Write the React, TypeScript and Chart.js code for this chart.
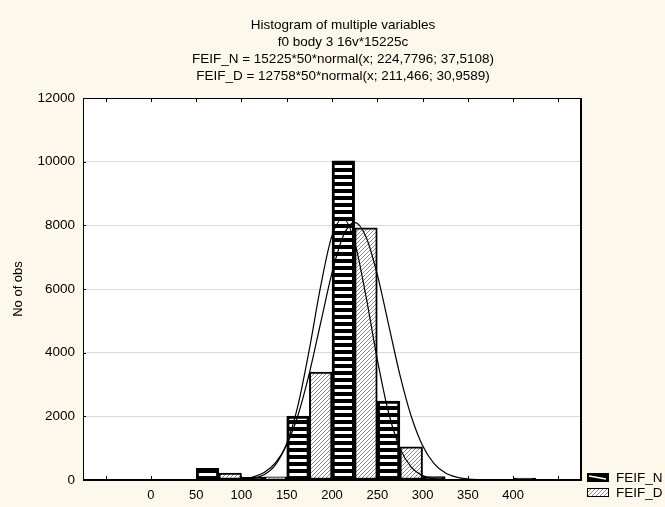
import React, { useEffect, useRef } from 'react';
import { Chart, registerables } from 'chart.js';

Chart.register(...registerables);

// ---- data ----
const titleLines = [
  'Histogram of multiple variables',
  'f0 body 3 16v*15225c',
  'FEIF_N = 15225*50*normal(x; 224,7796; 37,5108)',
  'FEIF_D = 12758*50*normal(x; 211,466; 30,9589)',
];
const binCenters = [-25, 25, 75, 125, 175, 225, 275, 325, 375, 425];
const feifN = [null, null, 370, 80, 2010, 10030, 2480, 110, null, 60];
const feifD = [null, null, 220, 100, 3390, 7920, 1040, null, null, null];

const curveX = [75, 87.5, 100, 112.5, 125, 137.5, 150, 162.5, 175, 187.5, 200, 212.5, 225, 237.5, 250, 262.5, 275, 287.5, 300, 312.5, 325, 337.5, 350, 362.5, 375];
const curveN = [1, 10, 32, 92, 236, 540, 1109, 2041, 3357, 4940, 6508, 7674, 8096, 7644, 6458, 4881, 3303, 2001, 1085, 525, 228, 89, 31, 10, 3];
const curveD = [0, 3, 13, 50, 166, 474, 1145, 2353, 4108, 6091, 7675, 8215, 7471, 5773, 3790, 2113, 1001, 403, 138, 40, 10, 2, 0, 0, 0];

const xTickValues = [-50, 0, 50, 100, 150, 200, 250, 300, 350, 400, 450];
const xTickLabels = ['', '0', '50', '100', '150', '200', '250', '300', '350', '400', ''];
const yTickValues = [0, 2000, 4000, 6000, 8000, 10000, 12000];
const seriesNames = ['FEIF_N', 'FEIF_D'];
const yAxisTitle = 'No of obs';

const FONT = '"Liberation Sans", Arial, sans-serif';
const BG = '#fdf8ec';

function makeStripePattern(ctx: CanvasRenderingContext2D) {
  const c = document.createElement('canvas');
  c.width = 8; c.height = 7;
  const g = c.getContext('2d')!;
  g.fillStyle = '#ffffff'; g.fillRect(0, 0, 8, 7);
  g.fillStyle = '#000000'; g.fillRect(0, 0, 8, 4);
  return ctx.createPattern(c, 'repeat')!;
}

function makeHatchPattern(ctx: CanvasRenderingContext2D) {
  const s = 4;
  const c = document.createElement('canvas');
  c.width = s; c.height = s;
  const g = c.getContext('2d')!;
  g.fillStyle = '#ffffff'; g.fillRect(0, 0, s, s);
  g.strokeStyle = '#8a8a8a'; g.lineWidth = 1;
  g.beginPath();
  g.moveTo(-1, s + 1); g.lineTo(s + 1, -1);
  g.moveTo(-1, 1); g.lineTo(1, -1);
  g.moveTo(s - 1, s + 1); g.lineTo(s + 1, s - 1);
  g.stroke();
  return ctx.createPattern(c, 'repeat')!;
}

export default function App() {
  const ref = useRef<HTMLCanvasElement>(null);

  useEffect(() => {
    const canvas = ref.current!;
    const ctx = canvas.getContext('2d')!;
    const patN = makeStripePattern(ctx);
    const patD = makeHatchPattern(ctx);

    const bgPlugin = {
      id: 'bg',
      beforeDraw(chart: any) {
        const c = chart.ctx;
        const a = chart.chartArea;
        c.save();
        c.fillStyle = BG;
        c.fillRect(0, 0, chart.width, chart.height);
        c.fillStyle = '#ffffff';
        c.fillRect(a.left, a.top, a.right - a.left, a.bottom - a.top);
        c.restore();
      },
    };

    const framePlugin = {
      id: 'frame',
      afterDraw(chart: any) {
        const c = chart.ctx;
        const a = chart.chartArea;
        const xs = chart.scales.x;
        const ys = chart.scales.y;
        c.save();
        // frame
        c.strokeStyle = '#000';
        c.lineWidth = 1;
        c.beginPath();
        c.moveTo(a.left + 0.5, a.bottom);
        c.lineTo(a.left + 0.5, a.top + 0.5);
        c.lineTo(a.right, a.top + 0.5);
        c.stroke();
        c.lineWidth = 2;
        c.beginPath();
        c.moveTo(a.right, a.top);
        c.lineTo(a.right, a.bottom);
        c.lineTo(a.left, a.bottom);
        c.stroke();
        // ticks
        c.lineWidth = 1;
        c.beginPath();
        xTickValues.forEach((v) => {
          const px = Math.round(xs.getPixelForValue(v)) + 0.5;
          c.moveTo(px, a.bottom); c.lineTo(px, a.bottom - 4);
          c.moveTo(px, a.top); c.lineTo(px, a.top + 4);
        });
        yTickValues.forEach((v) => {
          const py = Math.round(ys.getPixelForValue(v)) + 0.5;
          c.moveTo(a.left, py); c.lineTo(a.left + 3, py);
        });
        c.stroke();

        // title
        c.fillStyle = '#000';
        c.font = `13.5px ${FONT}`;
        c.textAlign = 'center';
        c.textBaseline = 'middle';
        titleLines.forEach((t, i) => c.fillText(t, 343, 25 + i * 17));

        // legend
        const lx = 587, sw = 22, sh = 9;
        const ly = [473, 488];
        c.fillStyle = '#000';
        c.fillRect(lx, ly[0], sw, sh);
        c.strokeStyle = '#fff';
        c.lineWidth = 1.5;
        c.beginPath();
        c.moveTo(lx + 2, ly[0] + 3); c.lineTo(lx + sw - 3, ly[0] + 6);
        c.stroke();
        c.fillStyle = patD;
        c.fillRect(lx, ly[1], sw, sh);
        c.strokeStyle = '#000';
        c.lineWidth = 1;
        c.strokeRect(lx + 0.5, ly[1] + 0.5, sw - 1, sh - 1);
        c.fillStyle = '#000';
        c.font = `13.5px ${FONT}`;
        c.textAlign = 'left';
        c.fillText(seriesNames[0], 616, ly[0] + 5);
        c.fillText(seriesNames[1], 616, ly[1] + 5);
        c.restore();
      },
    };

    const chart = new Chart(ctx, {
      type: 'bar',
      data: {
        datasets: [
          {
            type: 'line',
            label: 'fit N',
            data: curveX.map((x, i) => ({ x, y: curveN[i] })),
            borderColor: '#000',
            borderWidth: 1.2,
            pointRadius: 0,
            fill: false,
            cubicInterpolationMode: 'monotone',
            order: 0,
          } as any,
          {
            type: 'line',
            label: 'fit D',
            data: curveX.map((x, i) => ({ x, y: curveD[i] })),
            borderColor: '#000',
            borderWidth: 1.2,
            pointRadius: 0,
            fill: false,
            cubicInterpolationMode: 'monotone',
            order: 0,
          } as any,
          {
            type: 'bar',
            label: seriesNames[0],
            data: binCenters.map((x, i) => ({ x, y: feifN[i] })),
            backgroundColor: patN,
            borderColor: '#000',
            borderWidth: 3,
            borderSkipped: false,
            barPercentage: 1,
            categoryPercentage: 1,
            order: 1,
          } as any,
          {
            type: 'bar',
            label: seriesNames[1],
            data: binCenters.map((x, i) => ({ x, y: feifD[i] })),
            backgroundColor: patD,
            borderColor: '#000',
            borderWidth: 2,
            borderSkipped: false,
            barPercentage: 1,
            categoryPercentage: 1,
            order: 1,
          } as any,
        ],
      },
      options: {
        responsive: false,
        animation: false,
        layout: { padding: { left: 0, top: 98, right: 84, bottom: 0 } },
        plugins: {
          legend: { display: false },
          tooltip: { enabled: false },
          title: { display: false },
        },
        scales: {
          x: {
            type: 'linear',
            min: -75,
            max: 475,
            offset: false,
            grid: { display: false, drawTicks: false },
            border: { display: false },
            afterBuildTicks: (s: any) => {
              s.ticks = xTickValues.map((v) => ({ value: v }));
            },
            ticks: {
              autoSkip: false,
              maxRotation: 0,
              padding: 8,
              color: '#000',
              font: { family: FONT, size: 13 },
              callback: (_v: any, i: number) => xTickLabels[i],
            },
            afterFit: (s: any) => { s.height = 27; },
          },
          y: {
            min: 0,
            max: 12000,
            afterBuildTicks: (s: any) => {
              s.ticks = yTickValues.map((v) => ({ value: v }));
            },
            grid: { color: '#d9d9d9', drawTicks: false, lineWidth: 1 },
            border: { display: false },
            ticks: {
              padding: 8,
              color: '#000',
              font: { family: FONT, size: 13.5 },
              callback: (v: any) => String(v),
            },
            title: {
              display: true,
              text: yAxisTitle,
              color: '#000',
              font: { family: FONT, size: 13 },
              padding: { top: 11, bottom: 0 },
            },
            afterFit: (s: any) => { s.width = 83; },
          },
        },
      } as any,
      plugins: [bgPlugin, framePlugin],
    });

    return () => chart.destroy();
  }, []);

  return (
    <div style={{ position: 'fixed', left: 0, top: 0, width: 665, height: 507, background: BG }}>
      <canvas ref={ref} width={665} height={507} style={{ display: 'block', width: 665, height: 507 }} />
    </div>
  );
}
